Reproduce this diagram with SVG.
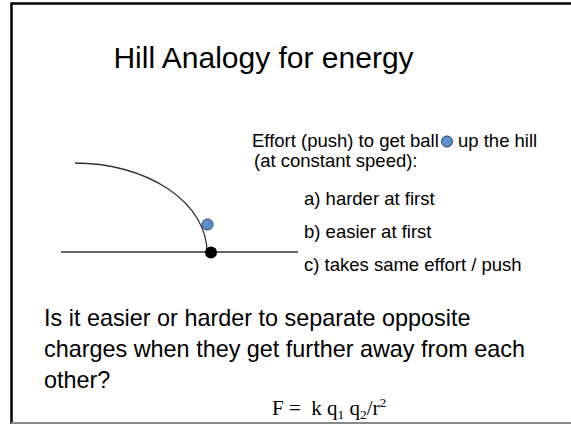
<svg xmlns="http://www.w3.org/2000/svg" width="571" height="424" viewBox="0 0 571 424">
<style>
.t{font-family:"Liberation Sans",Arial,sans-serif;fill:#000}
.b{font-size:18.5px}
.q{font-family:"Liberation Sans",Arial,sans-serif;font-size:23.4px;fill:#000}
.f{font-family:"Liberation Serif","Times New Roman",serif;font-size:21px;fill:#000}
.s{font-size:13.5px}
.ball{fill:#5b8fcb;stroke:#2a3f5a;stroke-width:1}
</style>
<rect width="571" height="424" fill="#fff"/>
<g id="frame" fill="none">
<path d="M11.5 424V3.5H571" stroke="#000" stroke-width="2.5"/>
<path d="M11 423H571" stroke="#888" stroke-width="2"/>
</g>
<g id="title"><text class="t" x="263.5" y="68" font-size="30" text-anchor="middle">Hill Analogy for energy</text></g>
<g id="hill" fill="none" stroke="#333" stroke-width="1.3">
<path d="M61 252H298"/>
<path d="M75 163A132 89 0 0 1 207 252"/>
</g>
<g id="ball"><circle class="ball" cx="207.5" cy="224.5" r="5.5"/></g>
<g id="dot"><circle cx="211" cy="252.5" r="6" fill="#000"/></g>
<g id="question">
<text class="t b" x="252" y="147">Effort (push) to get ball</text>
<circle class="ball" cx="447" cy="141.5" r="5.5"/>
<text class="t b" x="458" y="147">up the hill</text>
<text class="t b" x="254" y="167">(at constant speed):</text>
</g>
<g id="options">
<text class="t b" x="304" y="205">a) harder at first</text>
<text class="t b" x="304" y="238">b) easier at first</text>
<text class="t b" x="304" y="271">c) takes same effort / push</text>
</g>
<g id="prompt">
<text class="q" x="44" y="326">Is it easier or harder to separate opposite</text>
<text class="q" x="44" y="357">charges when they get further away from each</text>
<text class="q" x="44" y="388">other?</text>
</g>
<g id="formula"><text class="f" x="272" y="415">F =&#160; k q<tspan class="s" dy="4">1</tspan><tspan dy="-4"> q</tspan><tspan class="s" dy="4">2</tspan><tspan dy="-4">/r</tspan><tspan class="s" dy="-8">2</tspan></text></g>
</svg>
